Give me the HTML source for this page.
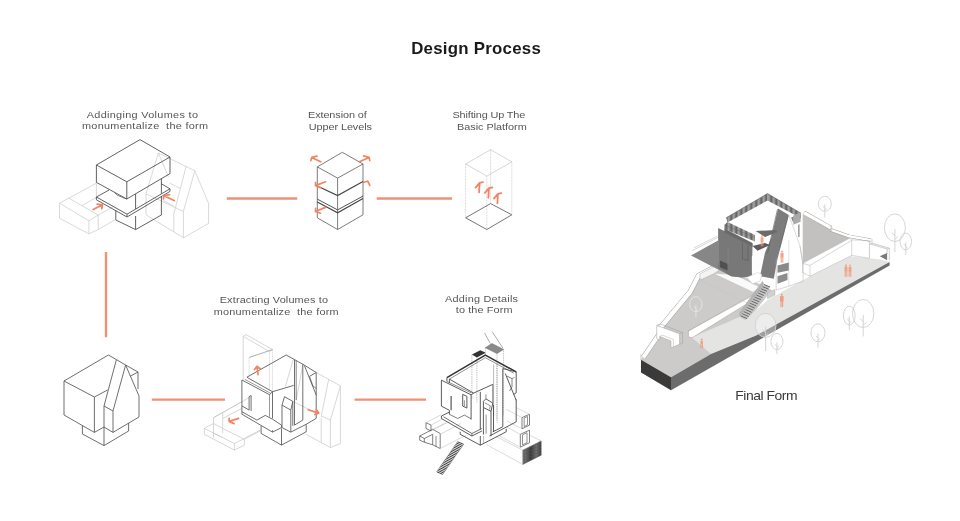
<!DOCTYPE html>
<html><head><meta charset="utf-8"><title>Design Process</title>
<style>
html,body{margin:0;padding:0;background:#fff;}
body{width:960px;height:521px;overflow:hidden;}
svg{display:block;font-family:"Liberation Sans",sans-serif;will-change:transform;}
</style></head><body>
<svg width="960" height="521" viewBox="0 0 960 521">
<defs><pattern id="bars" width="1.25" height="4" patternUnits="userSpaceOnUse"><rect width="1.25" height="4" fill="#a8a8a8"/><rect width="0.6" height="4" fill="#5e5e5e"/></pattern><pattern id="hatch" width="1.1" height="3" patternUnits="userSpaceOnUse"><rect width="1.1" height="3" fill="#8a8a8a"/><rect width="0.75" height="3" fill="#3a3a3a"/><rect width="1.1" height="0.4" fill="#555"/></pattern></defs>
<rect width="960" height="521" fill="#fff"/>
<text transform="translate(411.2,53.7) scale(1.06,1)" font-size="15.9" fill="#1a1a1a" font-weight="bold" textLength="122.3" lengthAdjust="spacing" xml:space="preserve">Design Process</text>
<text transform="translate(86.7,117.5) scale(1.17,1)" font-size="9.3" fill="#555" font-weight="normal" textLength="95.1" lengthAdjust="spacing" xml:space="preserve">Addinging Volumes to</text>
<text transform="translate(82.0,129.2) scale(1.17,1)" font-size="9.3" fill="#555" font-weight="normal" textLength="107.7" lengthAdjust="spacing" xml:space="preserve">monumentalize  the form</text>
<text transform="translate(308.0,117.5) scale(1.17,1)" font-size="9.3" fill="#555" font-weight="normal" textLength="50.2" lengthAdjust="spacing" xml:space="preserve">Extension of</text>
<text transform="translate(308.7,129.7) scale(1.17,1)" font-size="9.3" fill="#555" font-weight="normal" textLength="54.1" lengthAdjust="spacing" xml:space="preserve">Upper Levels</text>
<text transform="translate(452.5,117.5) scale(1.17,1)" font-size="9.3" fill="#555" font-weight="normal" textLength="62.2" lengthAdjust="spacing" xml:space="preserve">Shifting Up The</text>
<text transform="translate(457.0,129.7) scale(1.17,1)" font-size="9.3" fill="#555" font-weight="normal" textLength="59.6" lengthAdjust="spacing" xml:space="preserve">Basic Platform</text>
<text transform="translate(219.7,302.5) scale(1.17,1)" font-size="9.3" fill="#555" font-weight="normal" textLength="92.6" lengthAdjust="spacing" xml:space="preserve">Extracting Volumes to</text>
<text transform="translate(213.7,314.7) scale(1.17,1)" font-size="9.3" fill="#555" font-weight="normal" textLength="106.8" lengthAdjust="spacing" xml:space="preserve">monumentalize  the form</text>
<text transform="translate(445.0,301.7) scale(1.17,1)" font-size="9.3" fill="#555" font-weight="normal" textLength="62.4" lengthAdjust="spacing" xml:space="preserve">Adding Details</text>
<text transform="translate(455.8,313.3) scale(1.17,1)" font-size="9.3" fill="#555" font-weight="normal" textLength="48.5" lengthAdjust="spacing" xml:space="preserve">to the Form</text>
<text transform="translate(735.3,399.7) scale(1.17,1)" font-size="11.9" fill="#3a3a3a" font-weight="normal" textLength="53.2" lengthAdjust="spacing" xml:space="preserve">Final Form</text>
<line x1="226.8" y1="198.5" x2="297.2" y2="198.5" stroke="#ef9177" stroke-width="2.4"/>
<line x1="376.7" y1="198.5" x2="452.0" y2="198.5" stroke="#ef9177" stroke-width="2.4"/>
<line x1="106.0" y1="252.0" x2="106.0" y2="337.2" stroke="#ef9177" stroke-width="2.4"/>
<line x1="151.8" y1="399.6" x2="225.0" y2="399.6" stroke="#ef9177" stroke-width="2.4"/>
<line x1="354.6" y1="399.6" x2="426.0" y2="399.6" stroke="#ef9177" stroke-width="2.4"/>
<polyline points="59.5,203.2 96.4,183.2" fill="none" stroke="#c9c9c9" stroke-width="0.7"/>
<polyline points="59.5,203.2 88.9,220.8 98.2,215.1 68.9,198.2" fill="none" stroke="#c9c9c9" stroke-width="0.7"/>
<polyline points="59.5,203.2 59.5,218.2 88.9,233.9 98.2,229.5 115.1,219.9" fill="none" stroke="#c9c9c9" stroke-width="0.7"/>
<polyline points="88.9,220.8 88.9,233.9" fill="none" stroke="#c9c9c9" stroke-width="0.7"/>
<polyline points="98.2,215.1 98.2,229.5" fill="none" stroke="#c9c9c9" stroke-width="0.7"/>
<polyline points="82.0,205.5 96.4,197.4" fill="none" stroke="#c9c9c9" stroke-width="0.7"/>
<polyline points="98.2,215.1 115.1,205.5" fill="none" stroke="#c9c9c9" stroke-width="0.7"/>
<polyline points="96.4,183.2 96.4,198.2" fill="none" stroke="#c9c9c9" stroke-width="0.7"/>
<polyline points="158.4,153.0 146.0,193.8 146.0,214.8 183.4,237.8 208.6,223.4 208.6,203.4 194.8,170.8 158.4,153.0" fill="none" stroke="#c9c9c9" stroke-width="0.7"/>
<polyline points="194.8,170.8 183.4,211.4 183.4,237.8" fill="none" stroke="#c9c9c9" stroke-width="0.7"/>
<polyline points="186.2,166.0 173.8,214.0 173.8,231.8" fill="none" stroke="#c9c9c9" stroke-width="0.7"/>
<polyline points="146.0,193.8 183.4,211.4" fill="none" stroke="#c9c9c9" stroke-width="0.7"/>
<polyline points="158.4,153.0 168.4,177.0" fill="none" stroke="#c9c9c9" stroke-width="0.7"/>
<polyline points="169.6,183.0 180.0,188.4" fill="none" stroke="#c9c9c9" stroke-width="0.7"/>
<polyline points="163.2,200.4 173.8,206.0" fill="none" stroke="#c9c9c9" stroke-width="0.7"/>
<polygon points="140.0,139.6 96.4,165.0 126.8,181.8 170.0,157.0" fill="none" stroke="#505050" stroke-width="0.9"/>
<polyline points="96.4,165.0 96.4,182.4 126.8,199.0 170.0,173.6 170.0,157.0" fill="none" stroke="#505050" stroke-width="0.9"/>
<polyline points="126.8,181.8 126.8,199.0" fill="none" stroke="#505050" stroke-width="0.9"/>
<polyline points="109.0,190.0 96.4,197.0 127.0,214.2 170.0,188.8 161.0,183.6" fill="none" stroke="#505050" stroke-width="0.9"/>
<polyline points="96.4,197.0 96.4,199.8 127.0,217.0 170.0,191.4 170.0,188.8" fill="none" stroke="#505050" stroke-width="0.9"/>
<polyline points="127.0,214.2 127.0,217.0" fill="none" stroke="#505050" stroke-width="0.9"/>
<polyline points="135.6,194.0 135.6,209.0" fill="none" stroke="#505050" stroke-width="0.9"/>
<polyline points="161.4,178.6 161.4,193.6" fill="none" stroke="#505050" stroke-width="0.9"/>
<polyline points="114.4,192.4 117.2,195.2 126.8,199.0" fill="none" stroke="#505050" stroke-width="0.7"/>
<polyline points="115.8,210.4 115.8,220.0 135.6,229.6 161.4,215.0 161.4,196.0" fill="none" stroke="#505050" stroke-width="0.9"/>
<polyline points="135.6,216.0 135.6,229.6" fill="none" stroke="#505050" stroke-width="0.9"/>
<path d="M93.2,209.5 L102.4,204.8 M97.2,204.2 L102.4,204.8 L101.8,208.7" fill="none" stroke="#f08463" stroke-width="1.8" stroke-linecap="round" stroke-linejoin="round"/>
<path d="M174.1,200.5 L164.1,195.7 M169.5,194.6 L164.1,195.7 L163.4,198.9" fill="none" stroke="#f08463" stroke-width="1.8" stroke-linecap="round" stroke-linejoin="round"/>
<polygon points="342.3,152.3 317.3,166.9 337.6,178.1 363.0,164.0" fill="none" stroke="#5a5a5a" stroke-width="0.8"/>
<polyline points="317.3,166.9 317.3,217.8 337.6,229.5 363.0,214.8 363.0,164.0" fill="none" stroke="#5a5a5a" stroke-width="0.8"/>
<polyline points="337.6,178.1 337.6,229.5" fill="none" stroke="#5a5a5a" stroke-width="0.8"/>
<polyline points="317.3,186.1 337.6,195.6 363.0,181.4" fill="none" stroke="#444" stroke-width="1.1"/>
<polyline points="317.3,199.1 337.6,209.9 363.0,196.1" fill="none" stroke="#555" stroke-width="1.0"/>
<polyline points="317.3,201.9 337.6,212.8 363.0,198.6" fill="none" stroke="#444" stroke-width="1.1"/>
<path d="M320.7,161.8 L311.7,157.4 M310.9,160.6 L311.7,157.4 L317.0,156.2" fill="none" stroke="#f08463" stroke-width="1.7" stroke-linecap="round" stroke-linejoin="round"/>
<path d="M359.4,161.8 L369.1,157.4 M363.6,155.9 L369.1,157.4 L369.8,160.6" fill="none" stroke="#f08463" stroke-width="1.7" stroke-linecap="round" stroke-linejoin="round"/>
<path d="M325.5,181.8 L315.5,185.6 M315.6,182.4 L315.5,185.6 L320.5,187.6" fill="none" stroke="#f08463" stroke-width="1.7" stroke-linecap="round" stroke-linejoin="round"/>
<path d="M325.5,207.4 L315.5,211.5 M315.6,208.4 L315.5,211.5 L320.5,213.2" fill="none" stroke="#f08463" stroke-width="1.7" stroke-linecap="round" stroke-linejoin="round"/>
<path d="M363.5,182.3 L367.7,181.2 L369.8,185.3" fill="none" stroke="#f08463" stroke-width="1.7" stroke-linecap="round" stroke-linejoin="round"/>
<polygon points="490.6,149.7 465.6,164.0 486.8,176.1 511.8,161.9" fill="none" stroke="#c4c4c4" stroke-width="0.7"/>
<polyline points="465.6,164.0 465.6,217.8" fill="none" stroke="#c4c4c4" stroke-width="0.7" stroke-dasharray="0.9 0.6"/>
<polyline points="486.8,176.1 486.8,229.5" fill="none" stroke="#c4c4c4" stroke-width="0.7" stroke-dasharray="0.9 0.6"/>
<polyline points="511.8,161.9 511.8,214.8" fill="none" stroke="#c4c4c4" stroke-width="0.7" stroke-dasharray="0.9 0.6"/>
<polyline points="490.6,149.7 490.6,203.6" fill="none" stroke="#c4c4c4" stroke-width="0.7" stroke-dasharray="0.9 0.6"/>
<polygon points="465.6,217.8 490.6,203.6 511.8,214.8 486.8,229.5" fill="none" stroke="#666" stroke-width="0.9"/>
<path d="M479.1,192.3 L479.6,183.1 M475.6,187.6 L479.6,182.8 L483.0,182.2" fill="none" stroke="#f08463" stroke-width="1.8" stroke-linecap="round" stroke-linejoin="round"/>
<path d="M488.4,197.6 L488.9,188.4 M484.9,192.9 L488.9,188.1 L492.3,187.5" fill="none" stroke="#f08463" stroke-width="1.8" stroke-linecap="round" stroke-linejoin="round"/>
<path d="M497.4,203.3 L497.9,194.1 M493.9,198.6 L497.9,193.8 L501.3,193.2" fill="none" stroke="#f08463" stroke-width="1.8" stroke-linecap="round" stroke-linejoin="round"/>
<polyline points="64.0,381.0 108.4,355.0 116.4,359.6" fill="none" stroke="#555" stroke-width="0.85"/>
<polyline points="64.0,381.0 94.4,397.0 107.6,390.0" fill="none" stroke="#555" stroke-width="0.85"/>
<polyline points="64.0,381.0 64.0,415.0 94.4,432.4 104.0,427.0" fill="none" stroke="#555" stroke-width="0.85"/>
<polyline points="94.4,397.0 94.4,432.4" fill="none" stroke="#555" stroke-width="0.85"/>
<polyline points="116.4,359.6 104.0,406.0 113.0,411.0 125.6,365.0 116.4,359.6" fill="none" stroke="#555" stroke-width="0.85"/>
<polyline points="104.0,406.0 104.0,445.6" fill="none" stroke="#555" stroke-width="0.85"/>
<polyline points="113.0,411.0 113.0,432.4 139.0,417.0 139.0,396.0 125.6,365.0" fill="none" stroke="#555" stroke-width="0.85"/>
<polyline points="125.6,365.0 138.0,372.0 138.0,389.0" fill="none" stroke="#555" stroke-width="0.85"/>
<polyline points="138.0,372.0 130.0,376.4" fill="none" stroke="#555" stroke-width="0.85"/>
<polyline points="82.4,425.6 82.4,434.0 104.0,445.6 128.6,431.0 128.6,423.0" fill="none" stroke="#555" stroke-width="0.85"/>
<polyline points="104.0,427.0 113.0,432.4" fill="none" stroke="#555" stroke-width="0.85"/>
<polyline points="243.2,336.3 246.1,334.6 272.5,349.6 269.5,351.6" fill="none" stroke="#c6c6c6" stroke-width="0.7"/>
<polyline points="243.2,336.3 269.5,351.6" fill="none" stroke="#c6c6c6" stroke-width="0.7"/>
<polyline points="272.5,349.6 249.1,357.5" fill="none" stroke="#9a9a9a" stroke-width="0.8"/>
<polyline points="243.2,336.3 243.2,380.0" fill="none" stroke="#c6c6c6" stroke-width="0.7"/>
<polyline points="249.1,357.5 249.1,376.7" fill="none" stroke="#c6c6c6" stroke-width="0.7" stroke-dasharray="1.2 0.8"/>
<polyline points="269.5,351.6 269.5,390.9" fill="none" stroke="#c6c6c6" stroke-width="0.7" stroke-dasharray="1.2 0.8"/>
<polyline points="272.5,349.6 272.5,392.5" fill="none" stroke="#c6c6c6" stroke-width="0.7" stroke-dasharray="1.2 0.8"/>
<polyline points="204.3,428.4 213.5,423.4 213.5,417.6 222.7,412.6 222.7,418.4" fill="none" stroke="#c6c6c6" stroke-width="0.7"/>
<polyline points="222.7,412.6 249.4,397.5" fill="none" stroke="#c6c6c6" stroke-width="0.7"/>
<polyline points="213.5,417.6 241.9,401.7" fill="none" stroke="#c6c6c6" stroke-width="0.7"/>
<polyline points="204.3,428.4 204.3,434.3 234.4,450.1 244.4,445.1 244.4,439.3" fill="none" stroke="#c6c6c6" stroke-width="0.7"/>
<polyline points="204.3,428.4 234.4,443.5 244.4,438.4 260.3,430.1" fill="none" stroke="#c6c6c6" stroke-width="0.7"/>
<polyline points="234.4,443.5 234.4,450.1" fill="none" stroke="#c6c6c6" stroke-width="0.7"/>
<polyline points="213.5,423.4 213.5,437.6" fill="none" stroke="#c6c6c6" stroke-width="0.7"/>
<polyline points="222.7,418.4 222.7,433.4" fill="none" stroke="#c6c6c6" stroke-width="0.7"/>
<polyline points="222.7,418.4 241.9,408.4" fill="none" stroke="#c6c6c6" stroke-width="0.7"/>
<polyline points="213.5,433.1 222.7,437.6" fill="none" stroke="#c6c6c6" stroke-width="0.7"/>
<polyline points="222.7,428.4 244.4,439.3 260.3,430.9" fill="none" stroke="#c6c6c6" stroke-width="0.7"/>
<polyline points="213.5,423.4 222.7,428.4" fill="none" stroke="#c6c6c6" stroke-width="0.7"/>
<polyline points="316.2,372.5 340.4,385.9 340.4,443.5 330.4,447.6 321.2,442.6 321.2,418.4" fill="none" stroke="#c6c6c6" stroke-width="0.7"/>
<polyline points="330.4,420.1 330.4,447.6" fill="none" stroke="#c6c6c6" stroke-width="0.7"/>
<polyline points="340.4,385.9 330.4,420.1 321.2,415.9" fill="none" stroke="#c6c6c6" stroke-width="0.7"/>
<polyline points="328.7,379.2 321.2,416.7" fill="none" stroke="#c6c6c6" stroke-width="0.7"/>
<polyline points="306.2,434.3 321.2,442.6" fill="none" stroke="#c6c6c6" stroke-width="0.7"/>
<polyline points="293.2,359.6 285.3,386.7" fill="none" stroke="#c6c6c6" stroke-width="0.7"/>
<polyline points="302.8,365.0 296.2,400.1" fill="none" stroke="#c6c6c6" stroke-width="0.7"/>
<polyline points="293.7,401.7 316.2,413.1" fill="none" stroke="#c6c6c6" stroke-width="0.7"/>
<polyline points="246.9,377.2 286.2,355.0 294.5,359.6" fill="none" stroke="#555" stroke-width="0.85"/>
<polyline points="241.9,380.0 241.9,411.7" fill="none" stroke="#555" stroke-width="0.85"/>
<polyline points="241.9,380.0 269.5,394.7 272.5,391.7 248.1,378.0 246.9,377.2" fill="none" stroke="#555" stroke-width="0.85"/>
<polyline points="244.7,379.3 270.8,393.4" fill="none" stroke="#555" stroke-width="0.6"/>
<polyline points="272.5,391.7 272.5,418.4" fill="none" stroke="#555" stroke-width="0.85"/>
<polyline points="269.5,394.7 269.5,416.7" fill="none" stroke="#555" stroke-width="0.6"/>
<polyline points="272.5,391.7 293.7,385.4" fill="none" stroke="#555" stroke-width="0.85"/>
<polyline points="241.9,405.9 249.1,410.1 249.1,396.7 251.1,395.5 251.1,410.9" fill="none" stroke="#555" stroke-width="0.85"/>
<polyline points="241.9,411.7 241.9,414.2 272.5,432.1 281.5,427.6 281.5,425.1" fill="none" stroke="#555" stroke-width="0.85"/>
<polyline points="241.9,411.7 256.9,420.1 265.3,415.4 272.5,419.2 281.5,425.1" fill="none" stroke="#555" stroke-width="0.85"/>
<polyline points="272.5,430.1 272.5,432.1" fill="none" stroke="#555" stroke-width="0.7"/>
<polyline points="282.0,427.6 282.0,405.1 284.5,396.7 292.8,401.4 290.8,410.1 282.0,405.1" fill="none" stroke="#555" stroke-width="0.85"/>
<polyline points="290.8,410.1 290.8,432.1 282.0,427.6" fill="none" stroke="#555" stroke-width="0.85"/>
<polyline points="292.8,401.4 292.8,425.9" fill="none" stroke="#555" stroke-width="0.85"/>
<polyline points="294.5,359.6 294.5,425.1 302.8,420.1 302.8,364.2 294.5,359.6" fill="none" stroke="#555" stroke-width="0.85"/>
<polyline points="296.2,360.8 296.2,400.1" fill="none" stroke="#555" stroke-width="0.7"/>
<polyline points="290.8,432.1 306.2,424.3 316.2,418.4 316.2,372.5 302.8,364.2" fill="none" stroke="#555" stroke-width="0.85"/>
<polyline points="304.5,365.8 316.2,395.0" fill="none" stroke="#555" stroke-width="0.85"/>
<polyline points="309.5,376.3 316.2,372.5" fill="none" stroke="#555" stroke-width="0.85"/>
<polyline points="309.5,376.3 312.9,385.9 316.2,388.4" fill="none" stroke="#555" stroke-width="0.7"/>
<polyline points="261.1,425.9 261.1,433.4 281.5,445.1 306.2,431.8 306.2,424.3" fill="none" stroke="#555" stroke-width="0.85"/>
<polyline points="281.5,428.4 281.5,445.1" fill="none" stroke="#555" stroke-width="0.85"/>
<path d="M258.1,374.7 L256.9,366.3 M260.1,368.7 L256.9,366.3 L254.5,369.5" fill="none" stroke="#f08463" stroke-width="1.7" stroke-linecap="round" stroke-linejoin="round"/>
<path d="M238.6,418.4 L229.1,421.4 M229.2,418.3 L229.1,421.4 L234.0,423.6" fill="none" stroke="#f08463" stroke-width="1.7" stroke-linecap="round" stroke-linejoin="round"/>
<path d="M308.2,409.7 L318.7,413.1 M314.8,414.5 L318.7,413.1 L316.3,409.6" fill="none" stroke="#f08463" stroke-width="1.7" stroke-linecap="round" stroke-linejoin="round"/>
<polyline points="484.6,333.0 490.3,343.5" fill="none" stroke="#777" stroke-width="0.6"/>
<polyline points="492.1,331.5 502.8,348.0" fill="none" stroke="#777" stroke-width="0.6"/>
<polygon points="485.3,347.7 492.0,343.5 503.6,349.4 497.0,353.5" fill="#8a8a8a" stroke="#666" stroke-width="0.5"/>
<polygon points="471.9,354.4 480.3,350.2 485.8,352.7 476.9,357.4" fill="#333" stroke="none" stroke-width="0.5"/>
<polyline points="485.3,347.7 485.3,355.2" fill="none" stroke="#8c8c8c" stroke-width="0.6" stroke-dasharray="1 0.8"/>
<polyline points="497.0,353.5 497.0,422.8" fill="none" stroke="#8c8c8c" stroke-width="0.6" stroke-dasharray="1 0.8"/>
<polyline points="503.6,349.4 503.6,416.1" fill="none" stroke="#8c8c8c" stroke-width="0.6" stroke-dasharray="1 0.8"/>
<polyline points="471.9,354.4 471.9,399.4" fill="none" stroke="#8c8c8c" stroke-width="0.6" stroke-dasharray="1 0.8"/>
<polyline points="476.9,357.4 476.9,402.8" fill="none" stroke="#8c8c8c" stroke-width="0.6" stroke-dasharray="1 0.8"/>
<polyline points="493.6,364.4 493.6,416.1" fill="none" stroke="#8c8c8c" stroke-width="0.6"/>
<polyline points="497.0,364.4 497.0,419.5" fill="none" stroke="#8c8c8c" stroke-width="0.6" stroke-dasharray="1 0.8"/>
<polygon points="426.0,422.6 431.0,425.1 431.0,431.0 426.0,428.5" fill="none" stroke="#484848" stroke-width="0.7"/>
<polyline points="426.0,422.6 441.0,414.8" fill="none" stroke="#c2c2c2" stroke-width="0.6"/>
<polyline points="431.0,425.1 442.7,418.8" fill="none" stroke="#c2c2c2" stroke-width="0.6"/>
<polyline points="431.0,431.0 449.4,421.5" fill="none" stroke="#c2c2c2" stroke-width="0.6"/>
<polygon points="419.7,436.0 424.3,438.5 424.3,442.2 419.7,440.2" fill="none" stroke="#484848" stroke-width="0.7"/>
<polyline points="419.7,436.0 432.7,429.3 440.2,433.5" fill="none" stroke="#484848" stroke-width="0.7"/>
<polyline points="424.3,438.5 432.7,434.3 432.7,444.8 440.2,448.5 440.2,433.5" fill="none" stroke="#484848" stroke-width="0.7"/>
<polyline points="424.3,442.2 432.7,444.8" fill="none" stroke="#484848" stroke-width="0.7"/>
<polyline points="436.0,436.0 436.0,446.9" fill="none" stroke="#484848" stroke-width="0.6"/>
<polyline points="440.2,434.3 461.1,423.5" fill="none" stroke="#c2c2c2" stroke-width="0.6"/>
<polyline points="440.2,448.5 466.1,435.2" fill="none" stroke="#c2c2c2" stroke-width="0.6"/>
<polyline points="432.7,429.3 446.1,422.6" fill="none" stroke="#c2c2c2" stroke-width="0.6"/>
<polygon points="522.0,417.6 529.5,414.3 529.5,425.1 522.0,428.8" fill="none" stroke="#484848" stroke-width="0.7"/>
<polygon points="524.2,418.1 527.5,416.5 527.5,424.8 524.2,426.5" fill="none" stroke="#484848" stroke-width="0.6"/>
<polygon points="520.3,434.3 529.5,430.2 529.5,442.7 520.3,447.2" fill="none" stroke="#484848" stroke-width="0.7"/>
<polygon points="522.5,434.8 527.0,432.7 527.0,442.7 522.5,444.8" fill="none" stroke="#484848" stroke-width="0.6"/>
<polyline points="522.0,417.6 506.2,409.3" fill="none" stroke="#c2c2c2" stroke-width="0.6"/>
<polyline points="529.5,414.3 516.2,407.6" fill="none" stroke="#c2c2c2" stroke-width="0.6"/>
<polyline points="522.0,428.8 507.0,421.0" fill="none" stroke="#c2c2c2" stroke-width="0.6"/>
<polyline points="520.3,434.3 506.2,426.8" fill="none" stroke="#c2c2c2" stroke-width="0.6"/>
<polyline points="520.3,447.2 499.5,436.0" fill="none" stroke="#c2c2c2" stroke-width="0.6"/>
<polygon points="522.8,450.2 541.2,441.0 541.2,455.2 522.8,464.4" fill="url(#hatch)" stroke="#555" stroke-width="0.5"/>
<polyline points="522.8,450.2 496.1,436.5" fill="none" stroke="#c2c2c2" stroke-width="0.6"/>
<polyline points="522.8,464.4 486.1,444.3" fill="none" stroke="#c2c2c2" stroke-width="0.6"/>
<polyline points="541.2,441.0 530.4,435.5" fill="none" stroke="#c2c2c2" stroke-width="0.6"/>
<polyline points="522.8,450.2 522.8,464.4" fill="none" stroke="#c2c2c2" stroke-width="0.6"/>
<line x1="457.6" y1="441.8" x2="463.6" y2="444.3" stroke="#333" stroke-width="0.95"/>
<line x1="456.6" y1="443.1" x2="462.6" y2="445.6" stroke="#333" stroke-width="0.95"/>
<line x1="455.7" y1="444.5" x2="461.7" y2="447.0" stroke="#333" stroke-width="0.95"/>
<line x1="454.7" y1="445.8" x2="460.7" y2="448.4" stroke="#333" stroke-width="0.95"/>
<line x1="453.8" y1="447.2" x2="459.8" y2="449.7" stroke="#333" stroke-width="0.95"/>
<line x1="452.8" y1="448.6" x2="458.8" y2="451.1" stroke="#333" stroke-width="0.95"/>
<line x1="451.9" y1="449.9" x2="457.9" y2="452.5" stroke="#333" stroke-width="0.95"/>
<line x1="450.9" y1="451.3" x2="456.9" y2="453.8" stroke="#333" stroke-width="0.95"/>
<line x1="450.0" y1="452.7" x2="456.0" y2="455.2" stroke="#333" stroke-width="0.95"/>
<line x1="449.0" y1="454.0" x2="455.0" y2="456.6" stroke="#333" stroke-width="0.95"/>
<line x1="448.1" y1="455.4" x2="454.1" y2="457.9" stroke="#333" stroke-width="0.95"/>
<line x1="447.1" y1="456.8" x2="453.1" y2="459.3" stroke="#333" stroke-width="0.95"/>
<line x1="446.2" y1="458.1" x2="452.2" y2="460.7" stroke="#333" stroke-width="0.95"/>
<line x1="445.2" y1="459.5" x2="451.2" y2="462.0" stroke="#333" stroke-width="0.95"/>
<line x1="444.3" y1="460.9" x2="450.3" y2="463.4" stroke="#333" stroke-width="0.95"/>
<line x1="443.3" y1="462.2" x2="449.3" y2="464.8" stroke="#333" stroke-width="0.95"/>
<line x1="442.4" y1="463.6" x2="448.4" y2="466.1" stroke="#333" stroke-width="0.95"/>
<line x1="441.4" y1="465.0" x2="447.4" y2="467.5" stroke="#333" stroke-width="0.95"/>
<line x1="440.5" y1="466.3" x2="446.5" y2="468.9" stroke="#333" stroke-width="0.95"/>
<line x1="439.6" y1="467.7" x2="445.6" y2="470.2" stroke="#333" stroke-width="0.95"/>
<line x1="438.6" y1="469.1" x2="444.6" y2="471.6" stroke="#333" stroke-width="0.95"/>
<line x1="437.7" y1="470.4" x2="443.7" y2="473.0" stroke="#333" stroke-width="0.95"/>
<line x1="436.7" y1="471.8" x2="442.7" y2="474.3" stroke="#333" stroke-width="0.95"/>
<line x1="457.6" y1="441.8" x2="436.7" y2="471.8" stroke="#666" stroke-width="0.5"/>
<line x1="463.6" y1="444.3" x2="442.7" y2="474.3" stroke="#666" stroke-width="0.5"/>
<polyline points="446.9,377.7 485.3,355.2 516.2,371.9" fill="none" stroke="#333" stroke-width="1.5"/>
<polyline points="449.4,379.1 485.3,357.7 513.7,373.1" fill="none" stroke="#484848" stroke-width="0.6"/>
<polyline points="446.9,377.7 446.9,381.4" fill="none" stroke="#484848" stroke-width="0.9"/>
<polyline points="449.4,379.1 449.4,383.1" fill="none" stroke="#484848" stroke-width="0.9"/>
<polyline points="441.4,380.2 441.4,406.1 449.4,410.3 449.4,414.5" fill="none" stroke="#484848" stroke-width="0.9"/>
<polyline points="441.4,380.2 471.1,394.8 473.6,393.1 449.4,379.1" fill="none" stroke="#484848" stroke-width="0.9"/>
<polyline points="446.9,381.4 471.1,392.8" fill="none" stroke="#484848" stroke-width="0.6"/>
<polyline points="451.1,396.1 451.1,410.3" fill="none" stroke="#484848" stroke-width="1.1"/>
<polyline points="462.7,394.4 466.9,396.4 466.9,408.1 462.7,406.1 462.7,394.4" fill="none" stroke="#484848" stroke-width="0.9"/>
<polyline points="464.4,400.3 464.4,406.1" fill="none" stroke="#484848" stroke-width="0.6"/>
<polyline points="471.1,394.8 471.1,419.5" fill="none" stroke="#484848" stroke-width="0.9"/>
<polyline points="473.6,393.1 492.8,384.4" fill="none" stroke="#484848" stroke-width="0.9"/>
<polyline points="480.3,391.9 480.3,429.5" fill="none" stroke="#484848" stroke-width="0.9"/>
<polyline points="492.8,384.4 492.8,402.8" fill="none" stroke="#484848" stroke-width="0.7"/>
<polyline points="441.4,416.0 441.4,418.5 471.9,436.0 481.9,431.0" fill="none" stroke="#484848" stroke-width="0.9"/>
<polyline points="441.4,416.0 449.4,412.1" fill="none" stroke="#484848" stroke-width="0.9"/>
<polyline points="443.5,416.8 471.9,433.5 481.9,428.5" fill="none" stroke="#484848" stroke-width="0.8"/>
<polyline points="471.9,433.5 471.9,436.0" fill="none" stroke="#484848" stroke-width="0.7"/>
<polyline points="449.4,414.3 457.7,418.5 464.4,415.1 471.1,418.8" fill="none" stroke="#484848" stroke-width="0.7"/>
<polyline points="483.4,401.3 485.9,398.8 492.8,403.1 491.0,411.3 483.4,407.5 483.4,401.3" fill="none" stroke="#484848" stroke-width="0.9"/>
<polyline points="483.4,407.5 483.4,434.5" fill="none" stroke="#484848" stroke-width="0.9"/>
<polyline points="491.0,411.3 491.0,436.2" fill="none" stroke="#484848" stroke-width="0.9"/>
<polyline points="493.5,404.9 493.5,432.0" fill="none" stroke="#484848" stroke-width="0.9"/>
<polyline points="485.9,398.8 485.9,394.4" fill="none" stroke="#484848" stroke-width="0.6"/>
<polyline points="484.8,402.8 490.3,405.8 489.5,409.5" fill="none" stroke="#484848" stroke-width="0.6"/>
<polyline points="486.1,414.5 486.1,433.7" fill="none" stroke="#484848" stroke-width="0.6"/>
<polyline points="489.5,436.0 516.2,421.8 516.2,399.4" fill="none" stroke="#484848" stroke-width="0.9"/>
<polyline points="492.8,431.8 502.8,426.8 502.8,368.6" fill="none" stroke="#484848" stroke-width="0.9"/>
<polyline points="502.8,368.6 516.2,371.9 516.2,392.8 513.7,394.4" fill="none" stroke="#484848" stroke-width="0.9"/>
<polyline points="505.3,373.6 516.2,400.3" fill="none" stroke="#484848" stroke-width="0.9"/>
<polyline points="507.0,376.1 512.0,378.6 512.0,386.9 509.5,391.1" fill="none" stroke="#484848" stroke-width="0.7"/>
<polyline points="512.0,378.6 514.5,377.4" fill="none" stroke="#484848" stroke-width="0.6"/>
<polyline points="460.2,431.8 460.2,434.3 480.3,445.2 506.2,431.8 506.2,428.8" fill="none" stroke="#484848" stroke-width="0.9"/>
<polyline points="480.3,436.0 480.3,445.2" fill="none" stroke="#484848" stroke-width="0.9"/>
<polyline points="483.6,436.0 483.6,443.2" fill="none" stroke="#8c8c8c" stroke-width="0.6"/>
<polygon points="641.0,359.8 657.0,333.0 689.0,291.0 699.0,274.0 718.0,264.0 772.0,290.0 748.0,320.0 711.0,354.0 671.0,377.2" fill="#cdcbc9" stroke="none" stroke-width="0.5"/>
<polygon points="691.8,337.6 739.6,317.0 745.0,320.0 767.7,300.0 789.6,287.5 810.4,276.0 850.0,256.2 881.0,259.4 889.6,262.1 756.2,335.4 711.0,353.9" fill="#e4e4e3" stroke="none" stroke-width="0.5"/>
<polygon points="641.0,359.8 641.0,372.5 671.0,390.2 671.0,377.2" fill="#3a3a3a" stroke="none" stroke-width="0.5"/>
<polygon points="671.0,377.2 711.0,353.9 756.2,335.4 889.6,262.1 889.6,265.6 671.0,390.2" fill="#6c6c6c" stroke="none" stroke-width="0.5"/>
<polygon points="802.7,214.4 849.6,238.3 802.7,263.3" fill="#c3c1bf" stroke="none" stroke-width="0.5"/>
<polygon points="802.7,263.3 849.6,238.3 851.7,239.8 851.7,255.4 810.0,276.2 802.7,272.7" fill="#ffffff" stroke="#9c9c9c" stroke-width="0.4"/>
<polyline points="810.0,265.4 810.0,276.2" fill="none" stroke="#9c9c9c" stroke-width="0.4"/>
<polyline points="802.7,263.3 810.0,265.4 851.7,240.4" fill="none" stroke="#9c9c9c" stroke-width="0.4"/>
<polyline points="804.0,212.7 830.7,227.8" fill="none" stroke="#9c9c9c" stroke-width="4.3" stroke-linejoin="miter"/>
<polyline points="804.0,212.7 830.7,227.8" fill="none" stroke="#fff" stroke-width="3.4" stroke-linejoin="miter"/>
<polyline points="830.9,229.9 849.3,236.3 870.9,240.1" fill="none" stroke="#9c9c9c" stroke-width="3.3" stroke-linejoin="miter"/>
<polyline points="830.9,229.9 849.3,236.3 870.9,240.1" fill="none" stroke="#fff" stroke-width="2.4" stroke-linejoin="miter"/>
<polyline points="829.6,226.6 831.7,225.9 831.7,230.6 829.9,231.7" fill="none" stroke="#9c9c9c" stroke-width="0.4"/>
<polyline points="872.0,239.1 872.0,243.2 889.3,248.2 889.3,260.4" fill="none" stroke="#9c9c9c" stroke-width="0.5"/>
<polyline points="869.9,243.9 887.1,248.9 887.1,254.0" fill="none" stroke="#9c9c9c" stroke-width="0.5"/>
<polyline points="872.0,243.2 869.9,243.9" fill="none" stroke="#9c9c9c" stroke-width="0.4"/>
<polyline points="889.3,248.2 887.1,248.9" fill="none" stroke="#9c9c9c" stroke-width="0.4"/>
<polyline points="851.7,239.8 869.4,240.8" fill="none" stroke="#9c9c9c" stroke-width="0.4"/>
<polyline points="851.7,255.4 869.4,258.3" fill="none" stroke="#9c9c9c" stroke-width="0.4"/>
<polyline points="869.4,240.8 869.4,258.1" fill="none" stroke="#9c9c9c" stroke-width="0.5"/>
<polygon points="879.8,256.2 887.1,252.9 887.1,260.2" fill="#7a7a7a" stroke="none" stroke-width="0.5"/>
<polyline points="643.2,357.5 658.6,335.0" fill="none" stroke="#9c9c9c" stroke-width="4.9" stroke-linejoin="miter"/>
<polyline points="643.2,357.5 658.6,335.0" fill="none" stroke="#fff" stroke-width="4.0" stroke-linejoin="miter"/>
<polyline points="659.0,329.5 690.0,292.0 698.6,275.6 718.5,265.2" fill="none" stroke="#9c9c9c" stroke-width="5.3" stroke-linejoin="miter"/>
<polyline points="659.0,329.5 690.0,292.0 698.6,275.6 718.5,265.2" fill="none" stroke="#fff" stroke-width="4.4" stroke-linejoin="miter"/>
<polyline points="640.9,354.3 640.9,360.1" fill="none" stroke="#9c9c9c" stroke-width="0.5"/>
<polygon points="656.7,325.4 679.6,333.7 679.6,344.3 670.9,347.9 670.9,340.9 659.7,336.4 659.7,340.1 656.7,338.7" fill="#fff" stroke="#9c9c9c" stroke-width="0.5"/>
<polyline points="656.7,325.4 660.1,323.9 682.6,332.6 679.6,333.7" fill="none" stroke="#9c9c9c" stroke-width="0.5"/>
<polyline points="682.6,332.6 682.6,343.1 679.6,344.3" fill="none" stroke="#9c9c9c" stroke-width="0.5"/>
<polyline points="659.7,336.4 662.6,335.1 673.4,339.6 673.4,346.8" fill="none" stroke="#9c9c9c" stroke-width="0.4"/>
<polygon points="688.4,330.9 690.9,329.6 755.5,293.3 753.5,299.7 692.1,337.7 688.4,336.9" fill="#fff" stroke="#9c9c9c" stroke-width="0.5"/>
<polyline points="688.4,330.9 753.9,295.0" fill="none" stroke="#9c9c9c" stroke-width="0.4"/>
<polygon points="699.8,274.0 718.8,264.0 718.8,270.6 713.8,273.8 700.2,280.0" fill="#f4f4f4" stroke="#9c9c9c" stroke-width="0.4"/>
<polygon points="713.8,273.8 752.5,291.9 760.0,287.5 735.0,275.0" fill="#fafafa" stroke="none" stroke-width="0.5"/>
<polyline points="713.8,273.8 752.5,291.9" fill="none" stroke="#b0b0b0" stroke-width="0.4"/>
<polyline points="700.2,280.0 747.5,303.1" fill="none" stroke="#c2c0be" stroke-width="0.4"/>
<polygon points="726.2,217.8 767.5,193.6 767.5,200.5 727.5,222.4" fill="url(#bars)" stroke="none" stroke-width="0.5"/>
<polygon points="767.5,193.6 800.6,213.0 800.6,218.0 767.5,200.5" fill="url(#bars)" stroke="none" stroke-width="0.5"/>
<polygon points="791.2,217.4 800.6,213.6 800.6,218.2 793.1,222.4" fill="url(#bars)" stroke="none" stroke-width="0.5"/>
<polygon points="724.4,224.9 727.5,222.0 755.0,234.9 755.0,241.5 724.4,229.0" fill="url(#bars)" stroke="none" stroke-width="0.5"/>
<polyline points="726.2,217.8 767.5,193.6 800.6,213.0" fill="none" stroke="#555" stroke-width="0.6"/>
<polyline points="724.4,224.9 755.0,237.4" fill="none" stroke="#666" stroke-width="0.5"/>
<polygon points="718.1,240.5 691.0,255.6 731.2,276.2 742.5,277.5 718.1,262.0" fill="#878787" stroke="none" stroke-width="0.5"/>
<polygon points="718.1,228.0 752.5,244.2 752.0,276.2 742.5,277.5 731.2,276.2 718.1,268.0" fill="#787878" stroke="none" stroke-width="0.5"/>
<polyline points="693.8,248.0 717.5,236.1" fill="none" stroke="#b5b5b5" stroke-width="0.5"/>
<polyline points="692.5,250.5 718.1,237.4" fill="none" stroke="#999" stroke-width="0.4"/>
<polygon points="724.4,228.6 752.5,243.0 752.5,246.8 724.4,232.4" fill="#6a6a6a" stroke="none" stroke-width="0.5"/>
<polygon points="720.0,260.6 727.5,263.8 727.5,270.6 720.0,267.2" fill="#505050" stroke="none" stroke-width="0.5"/>
<polyline points="742.5,242.5 742.5,258.8 748.1,260.6 748.1,245.0" fill="none" stroke="#5a5a5a" stroke-width="0.6"/>
<polyline points="728.1,247.5 728.1,265.0" fill="none" stroke="#999" stroke-width="0.4"/>
<polygon points="751.9,256.2 763.8,250.6 761.5,268.8 751.9,273.1" fill="#fdfdfd" stroke="none" stroke-width="0.5"/>
<polygon points="778.1,208.6 788.8,214.9 782.5,240.0 777.5,258.8 773.8,278.8 760.0,276.2 765.0,252.5 771.2,238.0" fill="#7c7c7c" stroke="none" stroke-width="0.5"/>
<polyline points="777.5,209.2 767.5,253.0" fill="none" stroke="#555" stroke-width="0.6"/>
<polyline points="788.1,216.1 779.4,248.0" fill="none" stroke="#666" stroke-width="0.5"/>
<polygon points="755.6,231.1 776.2,229.9 777.5,232.0 765.0,237.0" fill="#6b6b6b" stroke="none" stroke-width="0.5"/>
<polygon points="752.5,246.1 765.0,243.0 770.0,244.9 757.5,250.8" fill="#5c5c5c" stroke="none" stroke-width="0.5"/>
<polyline points="776.2,258.8 776.2,290.0 788.8,286.2 803.1,281.2 803.1,265.0 800.0,246.2" fill="none" stroke="#b0b0b0" stroke-width="0.5"/>
<polyline points="788.8,214.9 800.0,246.0 803.1,265.0" fill="none" stroke="#b8b8b8" stroke-width="0.5"/>
<polyline points="788.8,240.0 788.8,286.2" fill="none" stroke="#c0c0c0" stroke-width="0.4"/>
<polygon points="777.5,265.6 788.8,262.5 788.8,270.6 777.5,272.8" fill="#8a8a8a" stroke="none" stroke-width="0.5"/>
<polygon points="777.5,276.2 787.5,273.1 787.5,280.0 777.5,283.8" fill="#8d8d8d" stroke="none" stroke-width="0.5"/>
<polygon points="798.1,224.8 799.6,224.2 799.6,236.7 798.1,237.3" fill="#999" stroke="none" stroke-width="0.5"/>
<polygon points="793.3,215.4 800.6,212.3 800.6,221.7 793.3,224.8" fill="#aaa" stroke="none" stroke-width="0.5"/>
<polygon points="762.6,280.8 764.1,284.6 740.7,315.8 739.6,316.6 739.3,312.5" fill="#b4b4b4" stroke="none" stroke-width="0.5"/>
<polygon points="764.1,284.6 770.1,287.0 747.1,318.7 740.7,315.8" fill="#c4c4c4" stroke="none" stroke-width="0.5"/>
<line x1="764.1" y1="284.6" x2="770.1" y2="287.0" stroke="#6a6a6a" stroke-width="1.0"/>
<line x1="762.5" y1="286.7" x2="768.6" y2="289.1" stroke="#6a6a6a" stroke-width="1.0"/>
<line x1="761.0" y1="288.8" x2="767.0" y2="291.2" stroke="#6a6a6a" stroke-width="1.0"/>
<line x1="759.4" y1="290.8" x2="765.5" y2="293.3" stroke="#6a6a6a" stroke-width="1.0"/>
<line x1="757.9" y1="292.9" x2="764.0" y2="295.5" stroke="#6a6a6a" stroke-width="1.0"/>
<line x1="756.3" y1="295.0" x2="762.4" y2="297.6" stroke="#6a6a6a" stroke-width="1.0"/>
<line x1="754.7" y1="297.1" x2="760.9" y2="299.7" stroke="#6a6a6a" stroke-width="1.0"/>
<line x1="753.2" y1="299.2" x2="759.4" y2="301.8" stroke="#6a6a6a" stroke-width="1.0"/>
<line x1="751.6" y1="301.2" x2="757.8" y2="303.9" stroke="#6a6a6a" stroke-width="1.0"/>
<line x1="750.1" y1="303.3" x2="756.3" y2="306.0" stroke="#6a6a6a" stroke-width="1.0"/>
<line x1="748.5" y1="305.4" x2="754.8" y2="308.1" stroke="#6a6a6a" stroke-width="1.0"/>
<line x1="746.9" y1="307.5" x2="753.2" y2="310.2" stroke="#6a6a6a" stroke-width="1.0"/>
<line x1="745.4" y1="309.6" x2="751.7" y2="312.4" stroke="#6a6a6a" stroke-width="1.0"/>
<line x1="743.8" y1="311.6" x2="750.2" y2="314.5" stroke="#6a6a6a" stroke-width="1.0"/>
<line x1="742.3" y1="313.7" x2="748.6" y2="316.6" stroke="#6a6a6a" stroke-width="1.0"/>
<line x1="740.7" y1="315.8" x2="747.1" y2="318.7" stroke="#6a6a6a" stroke-width="1.0"/>
<polygon points="746.9,277.5 757.5,272.5 761.9,274.4 760.0,281.2 752.5,283.8" fill="#fff" stroke="#bbb" stroke-width="0.4"/>
<polygon points="767.5,292.5 775.0,289.4 775.0,295.0 767.5,298.8" fill="#d0d0d0" stroke="#aaa" stroke-width="0.4"/>
<g fill="#f19575" opacity="0.9"><ellipse cx="781.80" cy="294.80" rx="0.95" ry="1.1"/><rect x="780.00" y="296.00" width="3.60" height="5.67" rx="0.6"/><rect x="780.45" y="301.40" width="1.1" height="5.67"/><rect x="782.05" y="301.40" width="1.1" height="5.67"/></g>
<g fill="#f19575" opacity="0.8"><ellipse cx="846.00" cy="265.40" rx="0.95" ry="1.1"/><rect x="844.50" y="266.60" width="3.00" height="5.25" rx="0.6"/><rect x="844.65" y="271.60" width="1.1" height="5.25"/><rect x="846.25" y="271.60" width="1.1" height="5.25"/></g>
<g fill="#f19575" opacity="0.8"><ellipse cx="850.00" cy="265.70" rx="0.95" ry="1.1"/><rect x="848.50" y="266.90" width="3.00" height="5.04" rx="0.6"/><rect x="848.65" y="271.70" width="1.1" height="5.04"/><rect x="850.25" y="271.70" width="1.1" height="5.04"/></g>
<g fill="#f19575" opacity="0.85"><ellipse cx="701.70" cy="339.60" rx="0.95" ry="1.1"/><rect x="700.50" y="340.80" width="2.40" height="3.78" rx="0.6"/><rect x="700.35" y="344.40" width="1.1" height="3.78"/><rect x="701.95" y="344.40" width="1.1" height="3.78"/></g>
<g fill="#f19575" opacity="0.8"><ellipse cx="762.00" cy="236.10" rx="0.95" ry="1.1"/><rect x="760.50" y="237.30" width="3.00" height="4.62" rx="0.6"/><rect x="760.65" y="241.70" width="1.1" height="4.62"/><rect x="762.25" y="241.70" width="1.1" height="4.62"/></g>
<g fill="#f19575" opacity="0.85"><ellipse cx="782.00" cy="251.60" rx="0.95" ry="1.1"/><rect x="780.40" y="252.80" width="3.20" height="5.04" rx="0.6"/><rect x="780.65" y="257.60" width="1.1" height="5.04"/><rect x="782.25" y="257.60" width="1.1" height="5.04"/></g>
<ellipse cx="824.8" cy="203.8" rx="6.5" ry="7.5" fill="none" fill-opacity="1" stroke="#d0d0d0" stroke-width="0.9"/>
<path d="M824.8,204.5 V217.5 M824.8,208.2 l-1.9,-1.9 M824.8,210.1 l1.8,-1.6" stroke="#d0d0d0" stroke-width="0.9" fill="none"/>
<ellipse cx="894.9" cy="227.7" rx="10.5" ry="13.8" fill="none" fill-opacity="1" stroke="#d0d0d0" stroke-width="0.9"/>
<path d="M894.9,229.1 V252.0 M894.9,235.9 l-3.1,-3.4 M894.9,239.4 l2.9,-3.0" stroke="#d0d0d0" stroke-width="0.9" fill="none"/>
<ellipse cx="905.8" cy="241.5" rx="5.8" ry="8.3" fill="none" fill-opacity="1" stroke="#d0d0d0" stroke-width="0.9"/>
<path d="M905.8,242.3 V255.0 M905.8,246.5 l-1.7,-2.1 M905.8,248.6 l1.6,-1.8" stroke="#d0d0d0" stroke-width="0.9" fill="none"/>
<ellipse cx="695.9" cy="304.2" rx="6.2" ry="7.5" fill="none" fill-opacity="1" stroke="#e6e5e4" stroke-width="0.9"/>
<path d="M695.9,304.9 V317.5 M695.9,308.7 l-1.9,-1.9 M695.9,310.6 l1.7,-1.6" stroke="#e6e5e4" stroke-width="0.9" fill="none"/>
<ellipse cx="765.6" cy="325.4" rx="10.4" ry="12.0" fill="#fff" fill-opacity="0.35" stroke="#d0d0d0" stroke-width="0.9"/>
<path d="M765.6,326.6 V351.0 M765.6,332.6 l-3.1,-3.0 M765.6,335.6 l2.9,-2.6" stroke="#d0d0d0" stroke-width="0.9" fill="none"/>
<ellipse cx="776.9" cy="341.5" rx="6.0" ry="8.1" fill="none" fill-opacity="1" stroke="#d0d0d0" stroke-width="0.9"/>
<path d="M776.9,342.3 V354.0 M776.9,346.4 l-1.8,-2.0 M776.9,348.4 l1.7,-1.8" stroke="#d0d0d0" stroke-width="0.9" fill="none"/>
<ellipse cx="818.0" cy="332.8" rx="7.0" ry="8.9" fill="none" fill-opacity="1" stroke="#d0d0d0" stroke-width="0.9"/>
<path d="M818.0,333.7 V347.5 M818.0,338.1 l-2.1,-2.2 M818.0,340.4 l2.0,-2.0" stroke="#d0d0d0" stroke-width="0.9" fill="none"/>
<ellipse cx="863.2" cy="313.5" rx="10.7" ry="14.0" fill="none" fill-opacity="1" stroke="#d0d0d0" stroke-width="0.9"/>
<path d="M863.2,314.9 V336.5 M863.2,321.9 l-3.2,-3.5 M863.2,325.4 l3.0,-3.1" stroke="#d0d0d0" stroke-width="0.9" fill="none"/>
<ellipse cx="849.3" cy="315.6" rx="5.9" ry="9.4" fill="none" fill-opacity="1" stroke="#d0d0d0" stroke-width="0.9"/>
<path d="M849.3,316.5 V330.0 M849.3,321.2 l-1.8,-2.4 M849.3,323.6 l1.7,-2.1" stroke="#d0d0d0" stroke-width="0.9" fill="none"/>
</svg>
</body></html>
